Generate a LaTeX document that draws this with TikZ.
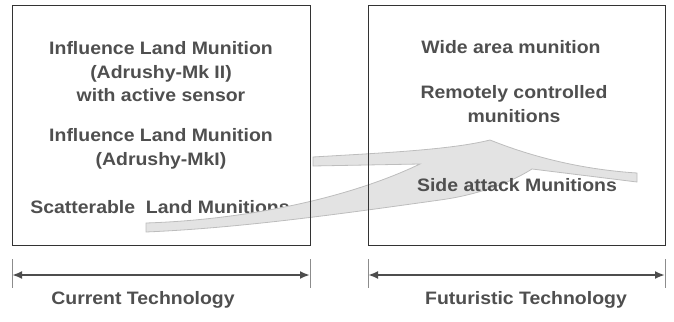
\documentclass[tikz,border=0pt]{standalone}
\usepackage{fontspec}
\setmainfont{Liberation Sans}[FakeStretch=1.08]
\usetikzlibrary{arrows.meta}

\definecolor{Txt}{HTML}{4F4F4F}
\definecolor{Frame}{HTML}{333333}
\definecolor{Span}{HTML}{4D4D4D}
\definecolor{Tick}{HTML}{8C8C8C}
\definecolor{Swoosh}{HTML}{E3E3E3}
\definecolor{SwooshEdge}{HTML}{BDBDBD}

\begin{document}
\begin{tikzpicture}[x=1pt, y=-1pt,
  lbl/.style={text=Txt, font=\fontsize{18}{23.5}\selectfont\bfseries, align=center, inner sep=0pt},
  span/.style={line width=2.2, color=Span, {Latex[length=10pt,width=8pt]}-{Latex[length=10pt,width=8pt]}},
  tick/.style={line width=0.8, color=Tick}]

 \useasboundingbox (0,0) rectangle (674,321);

 %%%%%%%%%% Points pour travailler %%%%%%%%%%

 \coordinate (0) at (12,6) ;
 \coordinate (1) at (310,245) ;
 \coordinate (2) at (368,6) ;
 \coordinate (3) at (665,245) ;

 \coordinate (4) at (12,259) ;
 \coordinate (5) at (12,288) ;
 \coordinate (6) at (310,259) ;
 \coordinate (7) at (310,288) ;
 \coordinate (8) at (368,259) ;
 \coordinate (9) at (368,288) ;
 \coordinate (10) at (665,259) ;
 \coordinate (11) at (665,288) ;

 \coordinate (12) at (12,275) ;
 \coordinate (13) at (310,275) ;
 \coordinate (14) at (368,275) ;
 \coordinate (15) at (665,275) ;

 %%%%%%%%%%% Left box texts %%%%%%%%%%%
 \node[lbl] (mk2) at (161,72) {Influence Land Munition\\(Adrushy-Mk II)\\with active sensor};
 \node[lbl] (mk1) at (161,149) {Influence Land Munition\\(Adrushy-MkI)};
 \node[lbl] (scat) at (160,207) {Scatterable\ \ Land Munitions};

 %%%%%%%%%%% The swoosh %%%%%%%%%%%
 \filldraw [fill=Swoosh, draw=SwooshEdge, line width=0.8]
   (146,223) .. controls (240,220) and (345,200) .. (420,164)
   -- (313,166) -- (313,157)
   .. controls (380,153) and (450,150) .. (490,140)
   .. controls (540,160) and (590,170) .. (637,173)
   -- (637,182) -- (532,169)
   .. controls (505,186) and (470,196) .. (440,200)
   .. controls (340,214) and (240,228) .. (146,232) -- cycle ;

 %%%%%%%%%%% Boxes %%%%%%%%%%%
 \draw [line width=1, color=Frame] (0) rectangle (1) ;
 \draw [line width=1, color=Frame] (2) rectangle (3) ;

 %%%%%%%%%%% Right box texts %%%%%%%%%%%
 \node[lbl] (wide) at (511,47) {Wide area munition};
 \node[lbl] (remote) at (514,104) {Remotely controlled\\munitions};
 \node[lbl] (side) at (517,185) {Side attack Munitions};

 %%%%%%%%%%% Spans %%%%%%%%%%%
 \draw [tick] (4) -- (5) ;
 \draw [tick] (6) -- (7) ;
 \draw [tick] (8) -- (9) ;
 \draw [tick] (10) -- (11) ;
 \draw [span] (12) -- (13) ;
 \draw [span] (14) -- (15) ;

 \node[lbl] (cur) at (143,300) {Current Technology};
 \node[lbl] (fut) at (526,300) {Futuristic Technology};

\end{tikzpicture}
\end{document}
